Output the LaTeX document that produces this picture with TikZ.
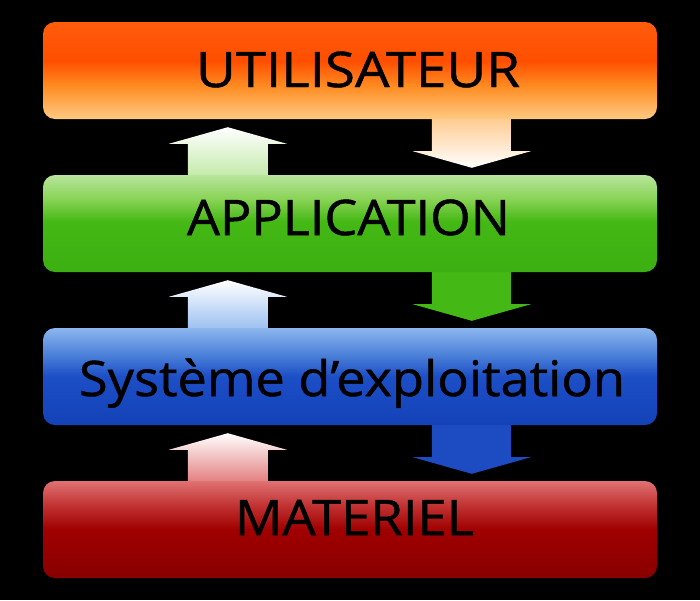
\documentclass[tikz,border=0pt]{standalone}
\usepackage{fontspec}
\setmainfont{Open Sans}
\newfontfamily\lblfont{Open Sans}[FakeBold=1]
\usetikzlibrary{calc}
\pgfdeclarelayer{background}
\pgfsetlayers{background,main}
% bar colours
\definecolor{oT}{HTML}{FF5C0C}\definecolor{oM}{HTML}{FF4E00}\definecolor{oM2}{HTML}{FF8C22}\definecolor{oB}{HTML}{FFCA82}
\definecolor{gT}{HTML}{B8E59C}\definecolor{gM2}{HTML}{86D252}\definecolor{gM}{HTML}{44B814}\definecolor{gB}{HTML}{3CAF12}
\definecolor{bT}{HTML}{8CB6EE}\definecolor{bM2}{HTML}{4F84DA}\definecolor{bM}{HTML}{1C4EC6}\definecolor{bB}{HTML}{1442B8}
\definecolor{rT}{HTML}{E07272}\definecolor{rM2}{HTML}{C03030}\definecolor{rM}{HTML}{A00000}\definecolor{rB}{HTML}{880000}
\definecolor{peach}{HTML}{FFC98C}\definecolor{lgreen}{HTML}{C2E9A8}\definecolor{lblue}{HTML}{98BEF0}\definecolor{lred}{HTML}{E27A7A}
\definecolor{arrgreen}{HTML}{44B814}\definecolor{arrblue}{HTML}{1C4BC2}
\pgfdeclareverticalshading{shOrange}{100bp}{color(0bp)=(oB); color(25bp)=(oB); color(42bp)=(oM2); color(55bp)=(oM); color(75bp)=(oT); color(100bp)=(oT)}
\pgfdeclareverticalshading{shGreen}{100bp}{color(0bp)=(gB); color(25bp)=(gB); color(51bp)=(gM); color(62bp)=(gM2); color(75bp)=(gT); color(100bp)=(gT)}
\pgfdeclareverticalshading{shBlue}{100bp}{color(0bp)=(bB); color(25bp)=(bB); color(50bp)=(bM); color(62bp)=(bM2); color(75bp)=(bT); color(100bp)=(bT)}
\pgfdeclareverticalshading{shRed}{100bp}{color(0bp)=(rB); color(25bp)=(rB); color(50bp)=(rM); color(62bp)=(rM2); color(75bp)=(rT); color(100bp)=(rT)}
\newcommand\blkdown[3]{%
  \path[#3] ([xshift=389pt,yshift=3pt]#1.south west) -- ([xshift=389pt,yshift=-32pt]#1.south west)
   -- ([xshift=370pt,yshift=-32pt]#1.south west) -- ([xshift=429pt,yshift=7pt]#2.north west)
   -- ([xshift=488pt,yshift=-32pt]#1.south west) -- ([xshift=468pt,yshift=-32pt]#1.south west)
   -- ([xshift=468pt,yshift=3pt]#1.south west) -- cycle;}
\newcommand\blkup[3]{%
  \path[#3] ([xshift=145pt,yshift=-3pt]#1.north west) -- ([xshift=145pt,yshift=31pt]#1.north west)
   -- ([xshift=126pt,yshift=31pt]#1.north west) -- ([xshift=185pt,yshift=-8pt]#2.south west)
   -- ([xshift=244pt,yshift=31pt]#1.north west) -- ([xshift=225pt,yshift=31pt]#1.north west)
   -- ([xshift=225pt,yshift=-3pt]#1.north west) -- cycle;}
\tikzset{
  bar/.style={rectangle, rounded corners=12pt, minimum width=614pt, minimum height=97pt, inner sep=0pt, draw=none},
  lbl/.style={inner sep=0pt, anchor=base, text=black, font=\lblfont\fontsize{49pt}{55pt}\selectfont},
}
\begin{document}
\begin{tikzpicture}[x=1pt,y=-1pt]
\useasboundingbox (0,0) rectangle (700,600);
\node[bar, shading=shOrange] (u) at (350,70.5) {};
\node[bar, shading=shGreen]  (a) at (350,223.5) {};
\node[bar, shading=shBlue]   (s) at (350,376.5) {};
\node[bar, shading=shRed]    (m) at (350,529.5) {};
\node[lbl] (tu) at (358,87)  {\resizebox{324pt}{\height}{UTILISATEUR}};
\node[lbl] (ta) at (348.5,235) {\resizebox{323pt}{\height}{APPLICATION}};
\node[lbl] (ts) at (352,396) {\resizebox{546pt}{\height}{Système d’exploitation}};
\node[lbl] (tm) at (354.5,535) {\resizebox{239pt}{\height}{MATERIEL}};
\begin{pgfonlayer}{background}
\fill[black] (0,0) rectangle (700,600);
\blkdown{u}{a}{shade, top color=peach, bottom color=white}
\blkup{a}{u}{shade, top color=white, bottom color=lgreen}
\blkdown{a}{s}{fill=arrgreen}
\blkup{s}{a}{shade, top color=white, bottom color=lblue}
\blkdown{s}{m}{fill=arrblue}
\blkup{m}{s}{shade, top color=white, bottom color=lred}
\end{pgfonlayer}
\end{tikzpicture}
\end{document}
